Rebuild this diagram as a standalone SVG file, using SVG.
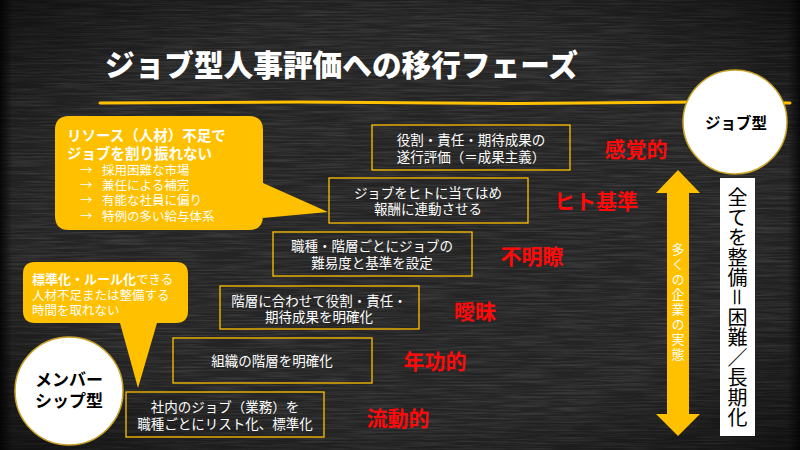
<svg xmlns="http://www.w3.org/2000/svg" width="800" height="450" viewBox="0 0 800 450">
<defs>
<style>
.jp{font-family:"Noto Sans CJK JP","Noto Sans CJK SC",sans-serif}
.box rect{fill:none;stroke:#FFC000;stroke-width:1.3}
.box text{fill:#fff;font-size:13.5px;text-anchor:middle;dominant-baseline:central}
.red{fill:#FF0a0a;font-size:21px;font-weight:700;text-anchor:middle;dominant-baseline:central}
.bub{fill:#FFC000}
.bt{fill:#fff}
</style>
<radialGradient id="vig" cx="50%" cy="50%" r="72%">
<stop offset="0.62" stop-color="#000" stop-opacity="0"/>
<stop offset="1" stop-color="#000" stop-opacity="0.6"/>
</radialGradient>
<linearGradient id="edge" x1="0" y1="0" x2="1" y2="0">
<stop offset="0" stop-color="#000" stop-opacity="0.8"/>
<stop offset="0.015" stop-color="#000" stop-opacity="0"/>
<stop offset="0.985" stop-color="#000" stop-opacity="0"/>
<stop offset="1" stop-color="#000" stop-opacity="0.7"/>
</linearGradient>
<filter id="chalk" x="0" y="0" width="100%" height="100%">
<feTurbulence type="fractalNoise" baseFrequency="0.02 0.6" numOctaves="3" seed="7"/>
<feColorMatrix type="matrix" values="0 0 0 0 1 0 0 0 0 1 0 0 0 0 1 0 0 0 0.22 -0.08"/>
</filter>
</defs>
<g id="background">
<rect width="800" height="450" fill="#242424"/>
<rect width="800" height="450" filter="url(#chalk)"/>
<rect width="800" height="450" fill="url(#vig)"/>
<rect width="800" height="450" fill="url(#edge)"/>
</g>
<g id="title">
<text class="jp" x="105" y="63" font-size="30" font-weight="900" fill="#fff" dominant-baseline="central" textLength="473" lengthAdjust="spacingAndGlyphs">ジョブ型人事評価への移行フェーズ</text>
<path d="M100,103 L300,102 L520,103.5 L700,102 L790,103" fill="none" stroke="#FFC000" stroke-width="3" stroke-linecap="round"/>
</g>
<g id="connectors">
<path d="M678,170 L700,193 L689,193 L689,414 L700,414 L678,436 L656,414 L667,414 L667,193 L656,193 Z" fill="#FFC000"/>
<text class="jp" x="678" y="303" font-size="13" fill="#fff" text-anchor="middle" writing-mode="vertical-rl" letter-spacing="2">多くの企業の実態</text>
</g>
<g id="node-job">
<circle cx="735" cy="122" r="52" fill="#fff" stroke="#C9A227" stroke-width="1.5"/>
<text class="jp" x="736" y="122" font-size="15.5" font-weight="700" fill="#000" text-anchor="middle" dominant-baseline="central">ジョブ型</text>
</g>
<g id="node-member">
<circle cx="69" cy="391" r="54" fill="#fff" stroke="#C9A227" stroke-width="1.5"/>
<text class="jp" x="69" y="378" font-size="17" font-weight="700" fill="#000" text-anchor="middle" dominant-baseline="central">メンバー</text>
<text class="jp" x="69" y="399" font-size="17" font-weight="700" fill="#000" text-anchor="middle" dominant-baseline="central">シップ型</text>
</g>
<g id="callout-resource">
<path class="bub" d="M69,116 H249 Q263,116 263,130 V183 L328,212 L263,218 V216 Q263,230 249,230 H69 Q55,230 55,216 V130 Q55,116 69,116 Z"/>
<g class="jp bt" dominant-baseline="central">
<text x="67" y="134" font-size="14.5" font-weight="700">リソース（人材）不足で</text>
<text x="67" y="152" font-size="14.5" font-weight="700">ジョブを割り振れない</text>
<text x="80" y="169" font-size="12.5">→</text><text x="102" y="169" font-size="12.5">採用困難な市場</text>
<text x="80" y="184" font-size="12.5">→</text><text x="102" y="184" font-size="12.5">兼任による補完</text>
<text x="80" y="199" font-size="12.5">→</text><text x="102" y="199" font-size="12.5">有能な社員に偏り</text>
<text x="80" y="215" font-size="12.5">→</text><text x="102" y="215" font-size="12.5">特例の多い給与体系</text>
</g>
</g>
<g id="callout-standard">
<path class="bub" d="M35,262 H176 Q188,262 188,274 V311 Q188,323 176,323 H157 L138,388 L120,323 H35 Q23,323 23,311 V274 Q23,262 35,262 Z"/>
<g class="jp bt" dominant-baseline="central" font-size="12.5">
<text x="32" y="278"><tspan font-weight="700" font-size="13">標準化・ルール化</tspan>できる</text>
<text x="32" y="294">人材不足または整備する</text>
<text x="32" y="309">時間を取れない</text>
</g>
</g>
<g id="box1" class="box jp">
<rect x="372" y="125" width="198" height="45"/>
<text x="471" y="139">役割・責任・期待成果の</text>
<text x="471" y="156">遂行評価（＝成果主義）</text>
</g>
<g id="box2" class="box jp">
<rect x="329" y="178" width="199" height="45"/>
<text x="428" y="192">ジョブをヒトに当てはめ</text>
<text x="428" y="208">報酬に連動させる</text>
</g>
<g id="box3" class="box jp">
<rect x="273" y="232" width="199" height="44"/>
<text x="372" y="245">職種・階層ごとにジョブの</text>
<text x="372" y="262">難易度と基準を設定</text>
</g>
<g id="box4" class="box jp">
<rect x="220" y="286" width="199" height="43"/>
<text x="319" y="300">階層に合わせて役割・責任・</text>
<text x="319" y="316">期待成果を明確化</text>
</g>
<g id="box5" class="box jp">
<rect x="173" y="338" width="199" height="45"/>
<text x="272" y="360">組織の階層を明確化</text>
</g>
<g id="box6" class="box jp">
<rect x="126" y="392" width="198" height="45"/>
<text x="225" y="406">社内のジョブ（業務）を</text>
<text x="225" y="423">職種ごとにリスト化、標準化</text>
</g>
<g id="labels" class="jp">
<text class="red" x="636" y="148">感覚的</text>
<text class="red" x="596" y="200">ヒト基準</text>
<text class="red" x="532" y="255">不明瞭</text>
<text class="red" x="475" y="310">曖昧</text>
<text class="red" x="435" y="360">年功的</text>
<text class="red" x="398" y="417">流動的</text>
</g>
<g id="node-note">
<rect x="720" y="178" width="35" height="258" fill="#fff"/>
<text class="jp" x="737.5" y="307" font-size="20" fill="#000" text-anchor="middle" writing-mode="vertical-rl">全てを整備＝困難／長期化</text>
</g>
</svg>
